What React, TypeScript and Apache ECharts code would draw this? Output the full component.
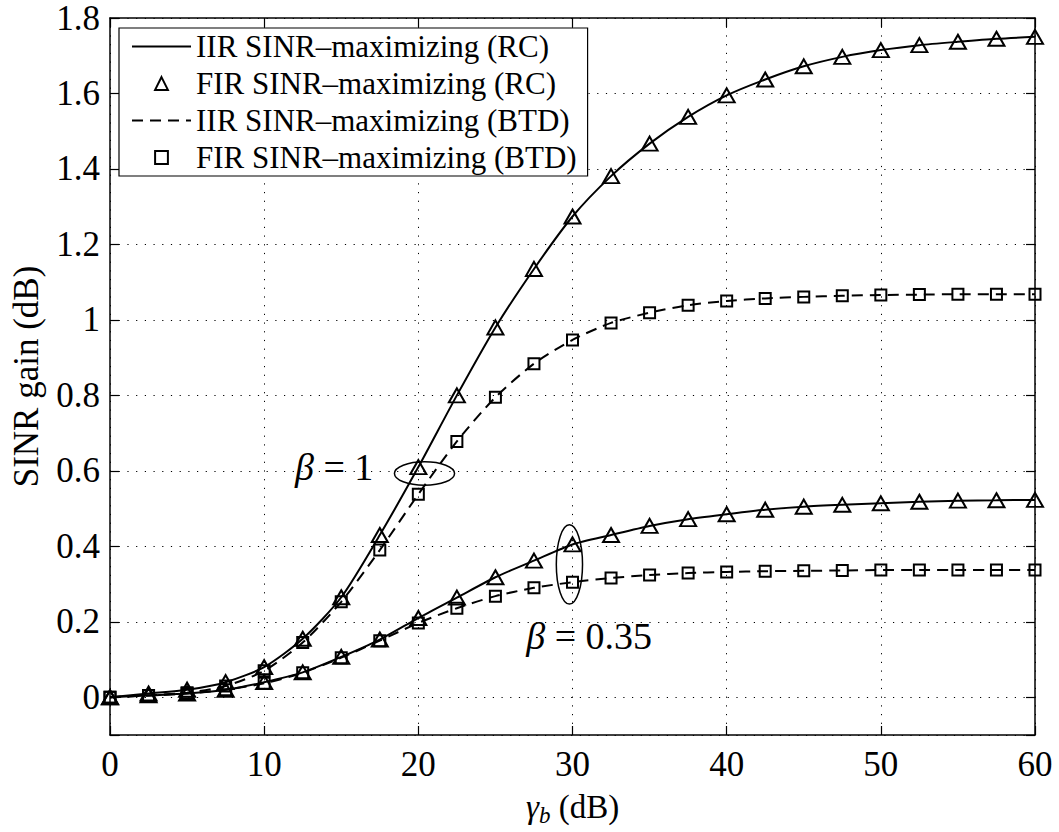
import React, { useEffect, useRef } from "react";
import * as echarts from "echarts";

// ---- data ----
const gammaB = [0, 2.5, 5, 7.5, 10, 12.5, 15, 17.5, 20, 22.5, 25, 27.5, 30, 32.5, 35, 37.5, 40, 42.5, 45, 47.5, 50, 52.5, 55, 57.5, 60];

// beta = 1
const firRcBeta1 = [0, 0.01, 0.02, 0.04, 0.08, 0.155, 0.265, 0.43, 0.61, 0.8, 0.98, 1.135, 1.274, 1.381, 1.467, 1.538, 1.595, 1.637, 1.672, 1.697, 1.715, 1.728, 1.737, 1.745, 1.75];
const iirRcBeta1 = [0, 0.01, 0.02, 0.04, 0.08, 0.155, 0.265, 0.43, 0.61, 0.8, 0.98, 1.135, 1.274, 1.381, 1.467, 1.538, 1.595, 1.637, 1.672, 1.697, 1.715, 1.728, 1.737, 1.745, 1.75];
const firBtdBeta1 = [0, 0.005, 0.012, 0.03, 0.07, 0.145, 0.253, 0.39, 0.538, 0.678, 0.795, 0.884, 0.947, 0.992, 1.019, 1.039, 1.05, 1.057, 1.061, 1.064, 1.066, 1.067, 1.068, 1.068, 1.068];
const iirBtdBeta1 = [0, 0.005, 0.012, 0.03, 0.07, 0.145, 0.253, 0.39, 0.538, 0.678, 0.795, 0.884, 0.947, 0.992, 1.019, 1.039, 1.05, 1.057, 1.061, 1.064, 1.066, 1.067, 1.068, 1.068, 1.068];

// beta = 0.35
const firRcBeta035 = [0, 0.005, 0.01, 0.02, 0.04, 0.066, 0.107, 0.153, 0.21, 0.264, 0.318, 0.362, 0.405, 0.43, 0.454, 0.472, 0.485, 0.497, 0.505, 0.51, 0.514, 0.518, 0.521, 0.522, 0.523];
const iirRcBeta035 = [0, 0.005, 0.01, 0.02, 0.04, 0.066, 0.107, 0.153, 0.21, 0.264, 0.318, 0.362, 0.405, 0.43, 0.454, 0.472, 0.485, 0.497, 0.505, 0.51, 0.514, 0.518, 0.521, 0.522, 0.523];
const firBtdBeta035 = [0, 0.005, 0.01, 0.02, 0.037, 0.065, 0.105, 0.15, 0.197, 0.236, 0.268, 0.29, 0.305, 0.316, 0.324, 0.329, 0.332, 0.334, 0.335, 0.336, 0.337, 0.337, 0.337, 0.337, 0.337];
const iirBtdBeta035 = [0, 0.005, 0.01, 0.02, 0.037, 0.065, 0.105, 0.15, 0.197, 0.236, 0.268, 0.29, 0.305, 0.316, 0.324, 0.329, 0.332, 0.334, 0.335, 0.336, 0.337, 0.337, 0.337, 0.337, 0.337];

const seriesNames = [
  "IIR SINR–maximizing (RC)",
  "FIR SINR–maximizing (RC)",
  "IIR SINR–maximizing (BTD)",
  "FIR SINR–maximizing (BTD)",
];

// annotations: [x, y, halfWidth (x units), halfHeight (y units)]
const annoEllipses = [
  [20.4, 0.593, 1.95, 0.031],
  [29.8, 0.352, 0.85, 0.105],
];
const annoTextPos = [
  [12.0, 0.611],
  [27.0, 0.162],
];
const annoTexts = ["{i|β} = 1", "{i|β} = 0.35"];

const FONT = '"Liberation Serif", "Times New Roman", Times, serif';

export default function App() {
  const ref = useRef<HTMLDivElement>(null);

  useEffect(() => {
    const chart = echarts.init(ref.current!, null, { renderer: "svg" });
    const pts = (ys: number[]) => gammaB.map((x, i) => [x, ys[i]]);

    const lineSeries = (name: string, ys: number[], dashed: boolean) => ({
      type: "line",
      name,
      data: pts(ys),
      smooth: 0.25,
      symbol: "none",
      xAxisIndex: 0,
      yAxisIndex: 0,
      lineStyle: { color: "#000", width: 2, type: dashed ? [11, 7] : "solid" },
      itemStyle: { color: "rgba(0,0,0,0)", borderWidth: 0 },
      z: 3,
    });
    const markSeries = (name: string, ys: number[], symbol: string, size: any) => ({
      type: "line",
      name,
      data: pts(ys),
      symbol,
      symbolSize: size,
      showSymbol: true,
      showAllSymbol: true,
      xAxisIndex: 0,
      yAxisIndex: 0,
      lineStyle: { width: 0, opacity: 0, color: "#000" },
      itemStyle: { color: "rgba(0,0,0,0)", borderColor: "#000", borderWidth: 2, opacity: 1 },
      z: 4,
    });

    const tickStyle = { show: true, inside: true, length: 9, lineStyle: { color: "#000", width: 1.2 } };
    const axisLine = { show: true, onZero: false, lineStyle: { color: "#000", width: 1.5 } };
    const gridLine = { show: true, lineStyle: { color: "#000", width: 1, type: [1.2, 7.5] } };

    chart.setOption({
      animation: false,
      backgroundColor: "#fff",
      grid: { left: 110, right: 24, top: 18, bottom: 87, containLabel: false },
      legend: {
        data: seriesNames,
        orient: "vertical",
        left: 119,
        top: 28,
        itemWidth: 59,
        itemHeight: 16,
        itemGap: 6,
        padding: [3, 11, 3, 12],
        backgroundColor: "#fff",
        borderColor: "#000",
        borderWidth: 1.2,
        borderRadius: 0,
        selectedMode: false,
        textStyle: { fontFamily: FONT, fontSize: 31, color: "#000" },
        z: 10,
      },
      xAxis: [
        {
          type: "value",
          min: 0,
          max: 60,
          interval: 10,
          position: "bottom",
          axisLine,
          axisTick: tickStyle,
          splitLine: gridLine,
          axisLabel: { color: "#000", fontFamily: FONT, fontSize: 35, margin: 12 },
          name: "{i|γ}{s|b} (dB)",
          nameLocation: "middle",
          nameGap: 52,
          nameTextStyle: {
            color: "#000",
            fontFamily: FONT,
            fontSize: 33,
            lineHeight: 40,
            rich: {
              i: { fontFamily: FONT, fontStyle: "italic", fontSize: 33, lineHeight: 40, color: "#000" },
              s: { fontFamily: FONT, fontStyle: "italic", fontSize: 23, lineHeight: 22, verticalAlign: "bottom", color: "#000" },
            },
          },
        },
        {
          type: "value",
          min: 0,
          max: 60,
          interval: 10,
          position: "top",
          axisLine,
          axisTick: tickStyle,
          splitLine: { show: false },
          axisLabel: { show: false },
        },
      ],
      yAxis: [
        {
          type: "value",
          min: -0.1,
          max: 1.8,
          splitNumber: 9,
          minInterval: 0.2,
          maxInterval: 0.2,
          position: "left",
          axisLine,
          axisTick: tickStyle,
          splitLine: gridLine,
          axisLabel: {
            color: "#000",
            fontFamily: FONT,
            fontSize: 35,
            margin: 10,
            formatter: (v: number) => (v < -0.05 ? "" : String(Math.round(v * 10) / 10)),
          },
          name: "SINR gain (dB)",
          nameLocation: "middle",
          nameGap: 66,
          nameTextStyle: { color: "#000", fontFamily: FONT, fontSize: 35 },
        },
        {
          type: "value",
          min: -0.1,
          max: 1.8,
          splitNumber: 9,
          minInterval: 0.2,
          maxInterval: 0.2,
          position: "right",
          axisLine,
          axisTick: tickStyle,
          splitLine: { show: false },
          axisLabel: { show: false },
        },
      ],
      series: [
        lineSeries(seriesNames[0], iirRcBeta1, false),
        lineSeries(seriesNames[0], iirRcBeta035, false),
        lineSeries(seriesNames[2], iirBtdBeta1, true),
        lineSeries(seriesNames[2], iirBtdBeta035, true),
        markSeries(seriesNames[1], firRcBeta1, "triangle", [16, 14]),
        markSeries(seriesNames[1], firRcBeta035, "triangle", [16, 14]),
        markSeries(seriesNames[3], firBtdBeta1, "rect", 11),
        markSeries(seriesNames[3], firBtdBeta035, "rect", 11),
        {
          type: "custom",
          name: "ellipses",
          xAxisIndex: 0,
          yAxisIndex: 0,
          clip: false,
          silent: true,
          z: 5,
          data: annoEllipses,
          encode: { x: 0, y: 1 },
          renderItem: (_p: any, api: any) => {
            const c = api.coord([api.value(0), api.value(1)]);
            const e = api.coord([api.value(0) + api.value(2), api.value(1) + api.value(3)]);
            return {
              type: "ellipse",
              shape: { cx: c[0], cy: c[1], rx: Math.abs(e[0] - c[0]), ry: Math.abs(e[1] - c[1]) },
              style: { fill: "none", stroke: "#000", lineWidth: 1.5 },
            };
          },
        },
        {
          type: "custom",
          name: "labels",
          xAxisIndex: 0,
          yAxisIndex: 0,
          clip: false,
          silent: true,
          z: 6,
          data: annoTextPos,
          encode: { x: 0, y: 1 },
          renderItem: (p: any, api: any) => {
            const c = api.coord([api.value(0), api.value(1)]);
            return {
              type: "text",
              x: c[0],
              y: c[1],
              style: {
                text: annoTexts[p.dataIndex],
                fontFamily: FONT,
                fontSize: 38,
                fill: "#000",
                align: "left",
                verticalAlign: "middle",
                rich: {
                  i: { fontFamily: FONT, fontStyle: "italic", fontSize: 38, fill: "#000" },
                },
              },
            };
          },
        },
      ],
    });
    return () => chart.dispose();
  }, []);

  return (
    <div
      ref={ref}
      style={{ position: "fixed", left: 0, top: 0, width: 1059, height: 832, background: "#fff" }}
    />
  );
}
